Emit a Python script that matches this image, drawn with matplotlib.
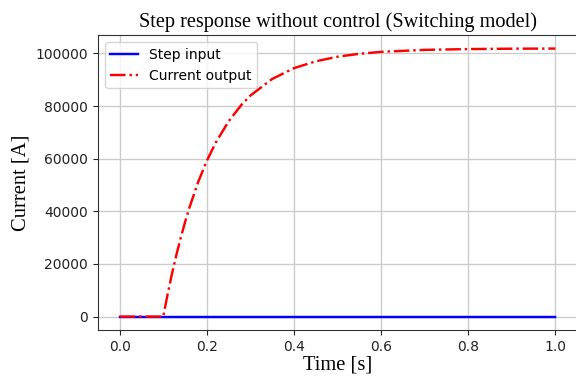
import numpy as np
import matplotlib
matplotlib.use("Agg")
import matplotlib.pyplot as plt

# step input (A)
t_step = [0.0, 0.1, 0.1, 1.0]
step_input = [0.0, 0.0, 1.0, 1.0]

# current output (A)
t_out = [0.0, 0.1, 0.11, 0.12, 0.13, 0.14, 0.15, 0.16, 0.18, 0.20, 0.22, 0.25,
         0.28, 0.30, 0.35, 0.40, 0.45, 0.50, 0.55, 0.60, 0.70, 0.80, 0.90, 1.0]
current_out = [0, 0, 8500, 16300, 23400, 29900, 35900, 41400, 51100, 59200, 66000, 74200,
               80600, 84000, 90300, 94400, 97000, 98750, 99850, 100600, 101350, 101650, 101800, 101850]

serif = "Liberation Serif"

fig = plt.figure(figsize=(5.76, 3.78), dpi=100)
ax = fig.add_axes([0.170, 0.127, 0.832, 0.780])

ax.plot(t_step, step_input, color="blue", lw=1.75, label="Step input")
ax.plot(t_out, current_out, color="red", lw=1.75, ls="-.", label="Current output")

ax.set_xticks([0.0, 0.2, 0.4, 0.6, 0.8, 1.0])
ax.set_yticks([0, 20000, 40000, 60000, 80000, 100000])
ax.tick_params(labelsize=10, colors="#222222")
ax.grid(True, color="#cccccc", lw=1.0)
ax.set_axisbelow(True)
for s in ax.spines.values():
    s.set_color("#333333")

ax.set_title("Step response without control (Switching model)", fontfamily=serif, fontsize=14.6)
ax.set_xlabel("Time [s]", fontfamily=serif, fontsize=14.8, labelpad=1)
ax.set_ylabel("Current [A]", fontfamily=serif, fontsize=14.8)
ax.legend(loc="upper left", fontsize=10)

fig.savefig("out.png", dpi=100)
